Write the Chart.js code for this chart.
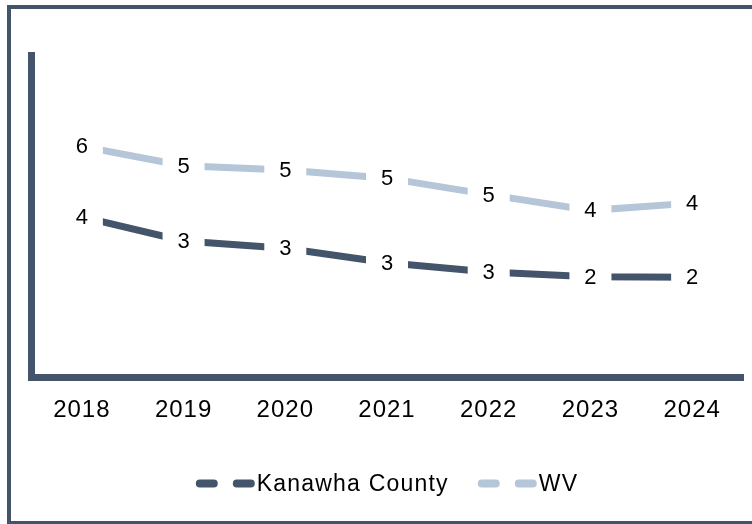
<!DOCTYPE html>
<html>
<head>
<meta charset="utf-8">
<script src="https://cdn.jsdelivr.net/npm/chart.js@4"></script>
<style>
html, body { margin: 0; padding: 0; background: #fff; overflow: hidden; }
#wrap { position: relative; width: 752px; height: 524px; overflow: hidden; }
#frame { position: absolute; left: 7px; top: 5px; width: 800px; height: 520px; border: 4px solid #44546a; box-sizing: border-box; }
#c { position: absolute; left: 0; top: 0; width: 752px; height: 524px; }
</style>
</head>
<body>
<div id="wrap">
  <div id="frame"></div>
  <canvas id="c" width="752" height="524"></canvas>
</div>
<script>
// ---- data ----
const years = ['2018', '2019', '2020', '2021', '2022', '2023', '2024'];
const kanawhaCounty = [3.98, 3.38, 3.20, 2.84, 2.61, 2.49, 2.48];
const wv = [5.73, 5.25, 5.14, 4.94, 4.53, 4.14, 4.32];
const seriesNames = ['Kanawha County', 'WV'];
const yMin = 0;
const yMax = 8;

// ---- styles ----
const DARK = '#44546a';
const LIGHT = '#b4c6d8';
const FONT = '"Liberation Sans", Arial, sans-serif';
const SPACING = '1px';

const spacingPlugin = {
  id: 'spacing',
  beforeUpdate(chart) { chart.ctx.letterSpacing = SPACING; },
  beforeDraw(chart) { chart.ctx.letterSpacing = SPACING; }
};

const valueLabels = {
  id: 'valueLabels',
  afterDatasetsDraw(chart) {
    const ctx = chart.ctx;
    chart.data.datasets.forEach((ds, i) => {
      const meta = chart.getDatasetMeta(i);
      meta.data.forEach((pt, j) => {
        ctx.save();
        ctx.fillStyle = '#ffffff';
        ctx.fillRect(pt.x - 21, pt.y - 15, 42, 30);
        ctx.letterSpacing = '0px';
        ctx.font = '22px ' + FONT;
        ctx.fillStyle = '#000000';
        ctx.textAlign = 'center';
        ctx.textBaseline = 'middle';
        ctx.fillText(String(Math.round(ds.data[j])), pt.x, pt.y + 1);
        ctx.restore();
      });
    });
  }
};

const dashLegend = {
  id: 'dashLegend',
  afterDraw(chart) {
    const ctx = chart.ctx;
    const area = chart.chartArea;
    ctx.save();
    ctx.font = '23px ' + FONT;
    ctx.letterSpacing = '1.2px';
    const sym = 61, gap = 29;
    const items = chart.data.datasets.map(ds => ({
      text: ds.label, color: ds.borderColor, w: sym + ctx.measureText(ds.label).width
    }));
    const total = items.reduce((s, it) => s + it.w, 0) + gap * (items.length - 1);
    let x = (area.left + area.right) / 2 - total / 2;
    const y = 483.5;
    items.forEach(it => {
      ctx.strokeStyle = it.color;
      ctx.lineWidth = 8;
      ctx.lineCap = 'round';
      ctx.setLineDash([14, 23]);
      ctx.beginPath();
      ctx.moveTo(x + 4, y);
      ctx.lineTo(x + 55, y);
      ctx.stroke();
      ctx.setLineDash([]);
      ctx.fillStyle = '#000000';
      ctx.textAlign = 'left';
      ctx.textBaseline = 'middle';
      ctx.fillText(it.text, x + sym, y + 1);
      x += it.w + gap;
    });
    ctx.restore();
  }
};

new Chart(document.getElementById('c'), {
  type: 'line',
  data: {
    labels: years,
    datasets: [
      { label: seriesNames[0], data: kanawhaCounty, borderColor: DARK, backgroundColor: DARK,
        borderWidth: 7, pointRadius: 0, tension: 0, fill: false },
      { label: seriesNames[1], data: wv, borderColor: LIGHT, backgroundColor: LIGHT,
        borderWidth: 7, pointRadius: 0, tension: 0, fill: false }
    ]
  },
  options: {
    responsive: false,
    animation: false,
    layout: { padding: { left: 31, top: 55, right: 9, bottom: 0 } },
    plugins: {
      legend: { display: false },
      tooltip: { enabled: false }
    },
    scales: {
      x: {
        type: 'category',
        offset: true,
        grid: { display: false, drawTicks: false },
        border: { display: true, color: DARK, width: 7 },
        ticks: { color: '#000000', font: { family: FONT, size: 24 }, padding: 19, maxRotation: 0, autoSkip: false },
        afterFit(s) { s.height = 147; }
      },
      y: {
        min: yMin,
        max: yMax,
        grid: { display: false, drawTicks: false },
        border: { display: true, color: DARK, width: 7 },
        ticks: { display: false },
        afterFit(s) { s.width = 0; }
      }
    }
  },
  plugins: [spacingPlugin, valueLabels, dashLegend]
});
</script>
</body>
</html>
